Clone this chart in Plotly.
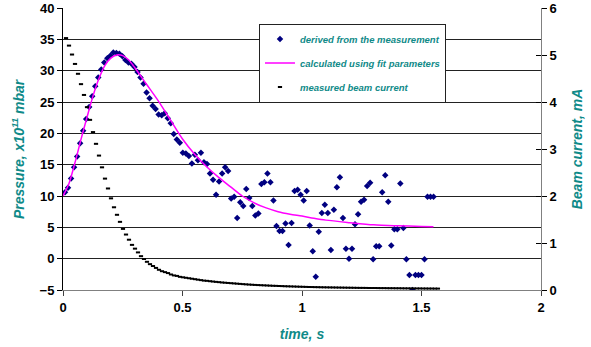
import plotly.graph_objects as go

# ---------------- data ----------------
derived_pressure = [
    10.6, 11.3, 12.8, 14.6, 16.3, 18.4, 20.4, 22.3, 24.2, 25.9,
    27.5, 28.9, 30.2, 31.3, 32.0, 32.4, 32.9, 32.8, 32.7, 32.3,
    31.7, 31.3, 31.1, 30.6, 29.8, 28.9, 27.9, 26.5, 25.6, 24.4,
    23.9, 23.0, 22.9, 23.2, 22.4, 21.6, 19.9, 19.0, 18.5, 16.9,
    16.8, 16.4, 15.2, 16.6, 15.7, 16.9, 15.4, 15.1, 13.6, 12.6,
    10.2, 12.3, 13.6, 14.6, 14.0, 9.6, 9.9, 6.5, 9.0, 8.4,
    11.1, 9.7, 8.4, 6.9, 7.2, 11.9, 12.2, 13.6, 12.2, 9.3,
    5.2, 4.4, 4.4, 5.6, 2.2, 5.7, 10.8, 11.0, 10.2, 9.3,
    10.8, 5.3, 1.2, -2.9, 4.3, 7.3, 8.6, 7.3, 1.4, 7.8,
    11.4, 13.0, 6.5, 1.6, 0.0, 1.6, 5.5, 7.1, 9.1, 9.4,
    11.6, 12.1, -0.1, 2.0, 2.0, 10.6, 13.3, 9.1, 2.1, 4.7,
    4.7, 12.0, 4.9, -0.1, -2.6, -5.0, -2.6, -2.6, -2.6, -0.1,
    9.9, 9.9, 9.9,
]
derived_t0 = 0.0084
derived_step = 0.01264
derived_time = [round(derived_t0 + derived_step * i, 4) for i in range(len(derived_pressure))]

fit_time = [0.0, 0.025, 0.05, 0.075, 0.1, 0.125, 0.15, 0.175, 0.2, 0.225,
            0.25, 0.275, 0.3, 0.35, 0.4, 0.45, 0.5, 0.55, 0.6, 0.65,
            0.7, 0.75, 0.8, 0.85, 0.9, 0.95, 1.0, 1.05, 1.1, 1.2,
            1.3, 1.4, 1.5, 1.55]
fit_pressure = [10.0, 12.0, 15.3, 19.0, 22.5, 25.9, 28.7, 30.8, 32.0, 32.5,
                32.4, 31.7, 30.5, 27.8, 25.1, 22.1, 19.1, 16.7, 14.7, 13.0,
                11.5, 10.0, 8.9, 8.1, 7.5, 7.1, 6.8, 6.45, 6.15, 5.75,
                5.4, 5.25, 5.15, 5.1]

beam_current = [
    5.36, 5.20, 5.01, 4.81, 4.60, 4.38, 4.15, 3.89, 3.62, 3.36,
    3.11, 2.86, 2.61, 2.37, 2.16, 1.95, 1.76, 1.60, 1.45, 1.30,
    1.18, 1.07, 0.96, 0.88, 0.80, 0.72, 0.66, 0.60, 0.55, 0.51,
    0.47, 0.43, 0.40, 0.38, 0.36, 0.33, 0.31, 0.30, 0.28, 0.27,
    0.26, 0.25, 0.24, 0.23, 0.22, 0.21, 0.20, 0.195, 0.187, 0.18,
    0.173, 0.167, 0.16, 0.155, 0.15, 0.145, 0.14, 0.135, 0.13, 0.125,
    0.12, 0.116, 0.112, 0.108, 0.105, 0.102, 0.099, 0.096, 0.093, 0.09,
    0.088, 0.085, 0.083, 0.08, 0.078, 0.076, 0.074, 0.072, 0.07, 0.068,
    0.066, 0.064, 0.063, 0.061, 0.06, 0.058, 0.057, 0.056, 0.055, 0.054,
    0.053, 0.052, 0.051, 0.05, 0.049, 0.048, 0.047, 0.046, 0.045, 0.045,
    0.044, 0.043, 0.042, 0.042, 0.041, 0.04, 0.04, 0.039, 0.038, 0.038,
    0.037, 0.037, 0.036, 0.035, 0.035, 0.034, 0.034, 0.033, 0.033, 0.032,
    0.032, 0.031, 0.031, 0.03, 0.03,
]
beam_step = 0.01255
beam_time = [round(beam_step * (i + 1), 4) for i in range(len(beam_current))]

x_ticks = [0, 0.5, 1, 1.5, 2]
x_tick_labels = ["0", "0.5", "1", "1.5", "2"]
y_ticks = [-5, 0, 5, 10, 15, 20, 25, 30, 35, 40]
y2_ticks = [0, 1, 2, 3, 4, 5, 6]

names = ["derived from the measurement",
         "calculated using fit parameters",
         "measured beam current"]

# ---------------- styles ----------------
TEAL = "#0f8a88"
FONT = "Liberation Sans, Arial, sans-serif"

fig = go.Figure()
fig.add_trace(go.Scatter(
    x=derived_time, y=derived_pressure, mode="markers", name=names[0],
    legendgroup="a",
    marker=dict(symbol="diamond", size=5, color="#000080"),
))
fig.add_trace(go.Scatter(
    x=fit_time, y=fit_pressure, mode="lines", name=names[1],
    legendgroup="b",
    line=dict(color="#ff00ff", width=1.5, shape="spline", smoothing=0.8),
))
fig.add_trace(go.Scatter(
    x=beam_time, y=beam_current, mode="markers", name=names[2],
    legendgroup="c", yaxis="y2",
    marker=dict(symbol="line-ew", size=3, color="black",
                line=dict(color="black", width=2)),
))

tickfont = dict(family=FONT, size=13, color="black", weight="bold")
titlefont = dict(family=FONT, size=14, color=TEAL, weight="bold", style="italic")

fig.update_layout(
    width=591, height=347,
    margin=dict(l=63, r=50, t=8, b=57),
    paper_bgcolor="white", plot_bgcolor="white",
    showlegend=True,
    legend=dict(
        x=0.41, y=0.945, xanchor="left", yanchor="top",
        bgcolor="white", bordercolor="#222222", borderwidth=1,
        font=dict(family=FONT, size=9.5, color=TEAL, weight="bold", style="italic"),
        traceorder="grouped", tracegroupgap=5,
        itemwidth=30,
    ),
    xaxis=dict(
        range=[0, 2], tickvals=x_ticks, ticktext=x_tick_labels,
        showgrid=False, zeroline=False, automargin=False,
        showline=True, linecolor="#808080", linewidth=1,
        ticks="outside", ticklen=5, tickcolor="#404040",
        tickfont=tickfont,
        title=dict(text="time, s", font=titlefont),
    ),
    yaxis=dict(
        range=[-5, 40], tickvals=y_ticks,
        showgrid=True, gridcolor="#222222", gridwidth=1,
        zeroline=False, automargin=False,
        showline=True, linecolor="black", linewidth=1,
        ticks="outside", ticklen=5, tickcolor="black",
        tickfont=tickfont,
    ),
    yaxis2=dict(
        range=[0, 6], tickvals=y2_ticks, overlaying="y", side="right",
        showgrid=False, zeroline=False, automargin=False,
        showline=True, linecolor="#808080", linewidth=1,
        ticks="outside", ticklen=5, tickcolor="black",
        tickfont=tickfont,
        title=dict(text="Beam current, mA", font=titlefont),
    ),
    yaxis3=dict(
        range=[0, 6], tickvals=y2_ticks, overlaying="y", side="right",
        anchor="x", showgrid=False, zeroline=False, showline=False,
        automargin=False,
        ticks="inside", ticklen=5, tickcolor="black", showticklabels=False,
    ),
)
# left axis title, placed a little closer to the tick labels
fig.add_annotation(
    text="Pressure, x10<sup>11</sup> mbar", textangle=-90,
    xref="paper", yref="paper", x=-0.094, y=0.5,
    xanchor="center", yanchor="middle", showarrow=False,
    font=titlefont,
)
# invisible helper trace so the inner right-hand ticks are drawn
fig.add_trace(go.Scatter(x=[None], y=[None], yaxis="y3", showlegend=False,
                         hoverinfo="skip"))

fig.write_html("out.html")
